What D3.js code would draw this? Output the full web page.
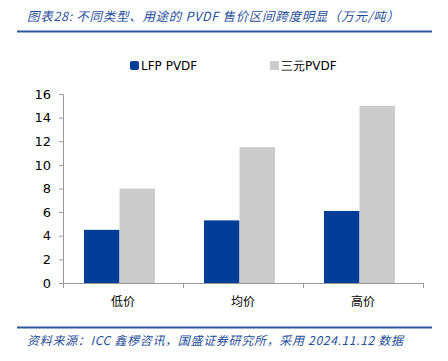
<!DOCTYPE html>
<html>
<head>
<meta charset="utf-8">
<script src="https://cdn.jsdelivr.net/npm/d3@7"></script>
<style>
  body { margin: 0; background: #fff; }
  svg { display: block; }
</style>
</head>
<body>
<svg id="chart" width="448" height="361"></svg>
<script>
const categories = ["低价", "均价", "高价"];
const seriesNames = ["LFP PVDF", "三元PVDF"];
const lfpValues = [4.5, 5.3, 6.1];
const ternaryValues = [8.0, 11.5, 15.0];
const yTicks = [0, 2, 4, 6, 8, 10, 12, 14, 16];
const colors = ["#003D99", "#CCCCCC"];

const svg = d3.select("#chart");
const font = "'Microsoft YaHei', 'Noto Sans CJK SC', 'DejaVu Sans', sans-serif";

// title + rules
svg.append("text")
    .attr("x", 27).attr("y", 21)
    .attr("font-family", font).attr("font-size", 12.5).attr("font-style", "italic")
    .attr("fill", "#1F4E9A")
    .attr("textLength", 372).attr("lengthAdjust", "spacing")
    .text("图表28:  不同类型、用途的 PVDF 售价区间跨度明显（万元/吨）");
svg.append("line").attr("x1", 17).attr("x2", 432).attr("y1", 31.5).attr("y2", 31.5)
    .attr("stroke", "#2C5AA0").attr("stroke-width", 2);
svg.append("line").attr("x1", 17).attr("x2", 432).attr("y1", 327.5).attr("y2", 327.5)
    .attr("stroke", "#2C5AA0").attr("stroke-width", 2);
svg.append("text")
    .attr("x", 27).attr("y", 345)
    .attr("font-family", font).attr("font-size", 12).attr("font-style", "italic")
    .attr("fill", "#1F4E9A")
    .attr("textLength", 376).attr("lengthAdjust", "spacing")
    .text("资料来源：ICC 鑫椤咨讯，国盛证券研究所，采用 2024.11.12 数据");

const x0 = d3.scaleBand().domain(categories).range([63, 423]).paddingInner(0).paddingOuter(0);
const x1 = d3.scaleBand().domain(seriesNames).range([21, 92]);
const y = d3.scaleLinear().domain([0, 16]).range([283, 94]);

// y axis
const yAxis = svg.append("g").attr("transform", "translate(63,0)")
    .call(d3.axisLeft(y).tickValues(yTicks).tickSize(4).tickPadding(8));
yAxis.select(".domain").attr("stroke", "#999");
yAxis.selectAll(".tick line").attr("stroke", "#999");
yAxis.selectAll("text").attr("font-family", "'DejaVu Sans', sans-serif").attr("font-size", 13).attr("fill", "#000");

// bars
const groups = svg.append("g").selectAll("g").data(categories).join("g")
    .attr("transform", d => `translate(${x0(d)},0)`);
groups.selectAll("rect")
    .data((d, i) => [{ s: seriesNames[0], v: lfpValues[i] }, { s: seriesNames[1], v: ternaryValues[i] }])
    .join("rect")
    .attr("x", d => x1(d.s))
    .attr("width", x1.bandwidth())
    .attr("y", d => y(d.v))
    .attr("height", d => y(0) - y(d.v))
    .attr("fill", (d, i) => colors[i]);

// x axis
const xAxis = svg.append("g").attr("transform", "translate(0,283)")
    .call(d3.axisBottom(x0).tickSize(0).tickPadding(14));
xAxis.select(".domain").attr("stroke", "#999");
xAxis.selectAll("text").attr("font-family", font).attr("font-size", 12).attr("fill", "#000");
svg.append("g").selectAll("line").data([63, 183, 303, 423]).join("line")
    .attr("x1", d => d + 0.5).attr("x2", d => d + 0.5).attr("y1", 283).attr("y2", 288)
    .attr("stroke", "#999");

// legend
const legendX = [130, 270];
seriesNames.forEach((name, i) => {
    svg.append("rect").attr("x", legendX[i]).attr("y", 61).attr("width", 9).attr("height", 9)
        .attr("rx", i === 0 ? 2 : 0).attr("fill", colors[i]);
    svg.append("text").attr("x", legendX[i] + 11).attr("y", 70)
        .attr("font-family", "'DejaVu Sans', sans-serif").attr("font-size", 12).attr("fill", "#000")
        .text(name);
});
</script>
</body>
</html>
